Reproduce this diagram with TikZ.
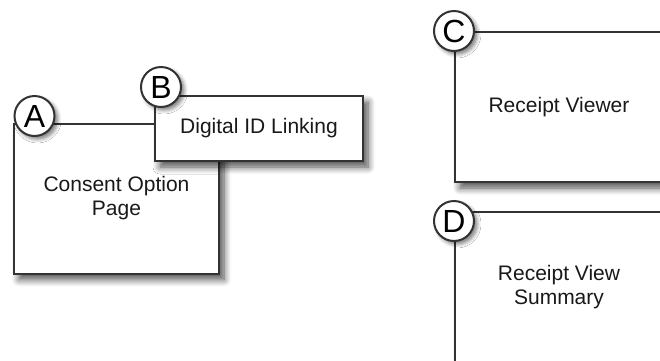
\documentclass[tikz,border=0pt]{standalone}
\usepackage{fontspec}
\setmainfont{Liberation Sans}
\usetikzlibrary{shadows.blur}

\begin{document}
\begin{tikzpicture}[x=0.5pt, y=-0.5pt,
    page/.style={draw=black!80, line width=1pt, fill=white, align=center,
        font=\fontsize{10.5}{12}\selectfont, text=black!90,
        blur shadow={shadow xshift=2.5pt, shadow yshift=-3pt, shadow blur radius=3.5pt, shadow blur steps=8, shadow opacity=70}},
    badge/.style={circle, draw=black!80, line width=1pt, fill=white, minimum size=20pt,
        inner sep=0pt, font=\fontsize{16}{16}\selectfont,
        blur shadow={shadow xshift=1.5pt, shadow yshift=-1.5pt, shadow blur radius=2pt, shadow blur steps=6, shadow opacity=55}}]
    % Fix the canvas to the reference size
    \useasboundingbox (0,0) rectangle (660,360);
    \clip (0,0) rectangle (660,360);

    % Left group
    \node[page, minimum width=102.5pt, minimum height=75pt] (consent) at (116.5,198.5) {Consent Option\\Page};
    \node[badge] (badgeA) at (34.5,116) {A};
    \node[page, minimum width=104pt, minimum height=32.5pt] (linking) at (259,128.5) {Digital ID Linking};
    \node[badge] (badgeB) at (161,87) {B};

    % Right group
    \node[page, minimum width=104pt, minimum height=75pt] (viewer) at (559,107) {Receipt Viewer};
    \node[badge] (badgeC) at (454,31) {C};
    \node[page, minimum width=104pt, minimum height=75pt] (summary) at (559,287) {Receipt View\\Summary};
    \node[badge] (badgeD) at (454,221) {D};
\end{tikzpicture}
\end{document}
